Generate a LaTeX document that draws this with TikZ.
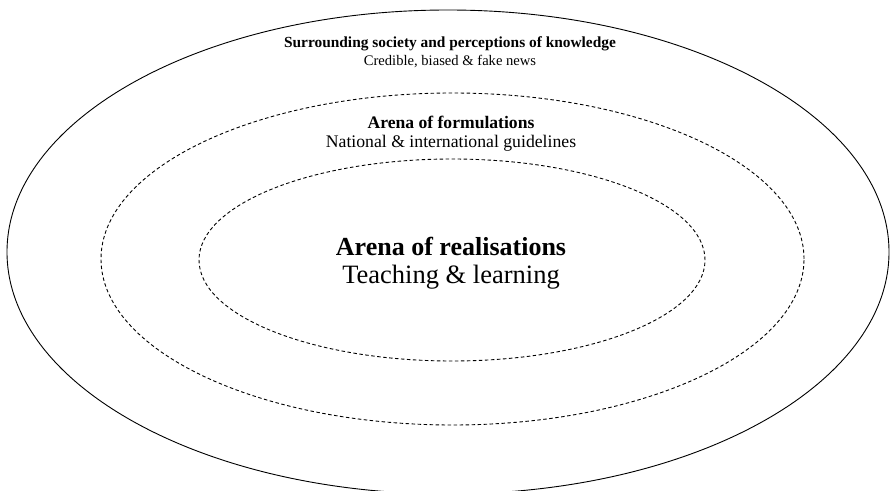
\documentclass[tikz,border=0pt]{standalone}
\usepackage{fontspec}
\setmainfont{Liberation Serif}
\usetikzlibrary{shapes.geometric}
\begin{document}
\begin{tikzpicture}[x=1pt,y=1pt,
  ring/.style={draw=black, line width=0.9pt, ellipse, inner sep=0pt},
  dashring/.style={ring, dash pattern=on 3.5pt off 2.5pt},
  lbl/.style={anchor=base, inner sep=0pt}]
\useasboundingbox (0,0) rectangle (890,490);
\node[ring, minimum width=882pt, minimum height=484pt] (outer) at (448,238) {};
\node[dashring, minimum width=703pt, minimum height=332pt] (middle) at (452.5,231) {};
\node[dashring, minimum width=506pt, minimum height=202pt] (inner) at (452,230) {};
\node[lbl, font=\fontsize{15.4}{18}\selectfont\bfseries] (t1) at (450,442) {Surrounding society and perceptions of knowledge};
\node[lbl, font=\fontsize{14.6}{18}\selectfont] (t2) at (450,424) {Credible, biased \& fake news};
\node[lbl, font=\fontsize{17.6}{20}\selectfont\bfseries] (m1) at (451,361) {Arena of formulations};
\node[lbl, font=\fontsize{17.7}{20}\selectfont] (m2) at (451,342) {National \& international guidelines};
\node[lbl, font=\fontsize{26}{30}\selectfont\bfseries] (i1) at (451,234) {Arena of realisations};
\node[lbl, font=\fontsize{26.5}{30}\selectfont] (i2) at (451,206) {Teaching \& learning};
\end{tikzpicture}
\end{document}
